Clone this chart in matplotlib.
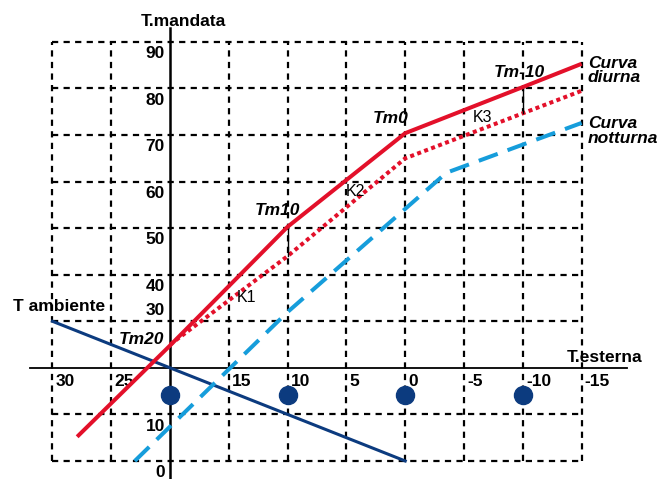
import matplotlib
matplotlib.use('Agg')
import matplotlib.pyplot as plt
import numpy as np

plt.rcParams['font.family'] = ['Liberation Sans', 'DejaVu Sans']

# ascisse (temperatura esterna) e valori
x_ticks = [30, 25, 15, 10, 5, 0, -5, -10, -15]
y_ticks = [90, 80, 70, 60, 50, 40, 30, 10, 0]
grid_x = [30, 25, 15, 10, 5, 0, -5, -10, -15]
grid_y = [0, 10, 30, 40, 50, 60, 70, 80, 90]

t_diurna = [27.9, 20, 10, 0, -10, -15]
v_diurna = [5.2, 24.8, 50.3, 70.4, 80.3, 85.3]

t_ridotta = [20, 10, 0, -15]
v_ridotta = [25.0, 44.0, 65.0, 79.5]

t_notturna = [23.0, 10, -3.5, -15]
v_notturna = [0.0, 32.0, 61.9, 72.6]

t_ambiente = [30, 0]
v_ambiente = [30, 0]

t_punti = [20, 10, 0, -10]
v_punti = [14.2, 14.2, 14.2, 14.2]

k_temps = [10, -10]

red = '#e3102a'
dblue = '#0c3b7f'
lblue = '#169ddb'

fig = plt.figure(figsize=(6.57, 4.79), dpi=100)
ax = fig.add_axes([0, 0, 1, 1])
ax.set_xlim(34.46, -21.41)
ax.set_ylim(-3.87, 99.0)
ax.axis('off')

# griglia tratteggiata
for gx in grid_x:
    ax.plot([gx, gx], [0, 90], color='black', lw=1.6, ls=(0, (2.8, 2.4)), zorder=1)
for gy in grid_y:
    ax.plot([30, -15], [gy, gy], color='black', lw=1.6, ls=(0, (2.8, 2.4)), zorder=1)

# assi
ax.plot([20, 20], [-3.87, 93.0], color='black', lw=1.8, zorder=2)
ax.plot([31.9, -18.9], [20, 20], color='black', lw=1.3, zorder=2)

# curve
ax.plot(t_ambiente, v_ambiente, color=dblue, lw=2.2, zorder=3)
ax.plot(t_notturna, v_notturna, color=lblue, lw=2.9, ls=(0, (5, 2.6)), zorder=3)
ax.plot(t_ridotta, v_ridotta, color=red, lw=2.9, ls=(0, (1, 0.85)), zorder=3)
ax.plot(t_diurna, v_diurna, color=red, lw=2.9, solid_capstyle='butt', zorder=4)
ax.plot(t_punti, v_punti, 'o', color=dblue, ms=13, zorder=4)

# segmenti K tra curva diurna e ridotta
for kt in k_temps:
    top = np.interp(-kt, [-t for t in t_diurna], v_diurna)
    bot = np.interp(-kt, [-t for t in t_ridotta], v_ridotta)
    ax.plot([kt, kt], [bot, top], color='black', lw=1.0, zorder=3)

# etichette assi
for xt in x_ticks:
    ax.text(xt - 0.26, 17.0, str(xt), ha='left', va='center',
            fontsize=12.5, fontweight='bold')
for yt in y_ticks:
    off = 2.4 if yt == 30 else -2.5
    ax.text(20.43, yt + off, str(yt), ha='right', va='center',
            fontsize=12.5, fontweight='bold')

ax.text(18.9, 94.3, 'T.mandata', ha='center', va='center', fontsize=12.5, fontweight='bold')
ax.text(-13.76, 22.3, 'T.esterna', ha='left', va='center', fontsize=12.5, fontweight='bold')
ax.text(33.35, 33.1, 'T ambiente', ha='left', va='center', fontsize=12.5, fontweight='bold')

bi = dict(fontsize=12.5, fontweight='bold', fontstyle='italic', va='center')
ax.text(20.5, 26.0, 'Tm20', ha='right', **bi)
ax.text(10.9, 53.7, 'Tm10', ha='center', **bi)
ax.text(1.2, 73.5, 'Tm0', ha='center', **bi)
ax.text(-9.68, 83.5, 'Tm-10', ha='center', **bi)
ax.text(-15.54, 83.8, 'Curva\ndiurna', ha='left', linespacing=0.95, **bi)
ax.text(-15.54, 70.9, 'Curva\nnotturna', ha='left', linespacing=0.95, **bi)

ax.text(13.5, 35.2, 'K1', ha='center', va='center', fontsize=11.5)
ax.text(4.27, 57.8, 'K2', ha='center', va='center', fontsize=11.5)
ax.text(-6.6, 73.7, 'K3', ha='center', va='center', fontsize=11.5)

fig.savefig('out.png', dpi=100)
